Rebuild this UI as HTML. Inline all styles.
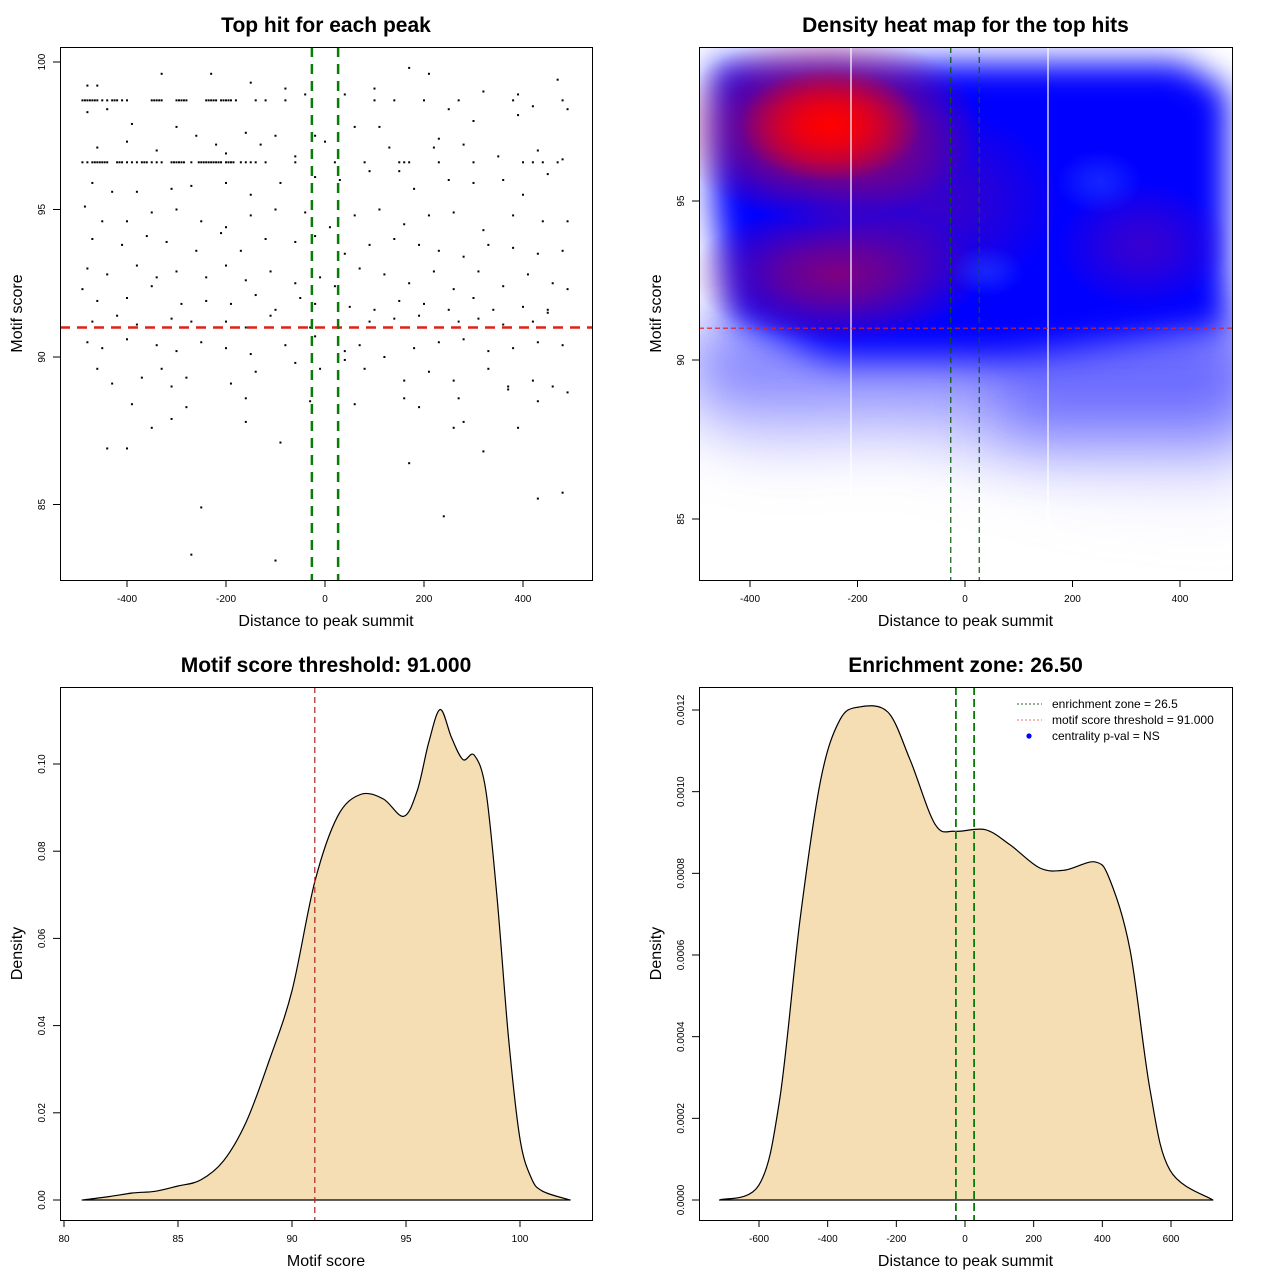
<!DOCTYPE html>
<html><head><meta charset="utf-8">
<style>
html,body{margin:0;padding:0;background:#fff;}
svg text{font-family:"Liberation Sans",sans-serif;}
</style></head>
<body>
<svg id="chart" xmlns="http://www.w3.org/2000/svg" width="1280" height="1280" viewBox="0 0 1280 1280">
<defs>
<filter id="blurA" filterUnits="userSpaceOnUse" x="600" y="0" width="700" height="700"><feGaussianBlur stdDeviation="16"/></filter>
<filter id="blurB" filterUnits="userSpaceOnUse" x="600" y="0" width="700" height="700"><feGaussianBlur stdDeviation="30"/></filter>
<clipPath id="clip2"><rect x="699" y="47" width="533" height="533"/></clipPath>
<linearGradient id="fadeGrad" x1="0" y1="0" x2="0" y2="1">
<stop offset="0" stop-color="#3030ff" stop-opacity="0.9"/>
<stop offset="0.45" stop-color="#8080ff" stop-opacity="0.55"/>
<stop offset="1" stop-color="#d0d0ff" stop-opacity="0.05"/>
</linearGradient>
</defs>
<g id="root"></g>
</svg>
<script>
// ---- Panel 1 data: scatter (distance, score)
const scatterX = [-490,-485,-480,-475,-470,-465,-460,-450,-440,-430,-425,-420,-410,-400,-350,-345,-340,-335,-330,-300,-295,-290,-285,-280,-240,-235,-230,-225,-220,-210,-205,-200,-195,-190,-180,-140,-120,-80,100,140,200,270,380,480,
-490,-480,-470,-465,-460,-455,-450,-445,-440,-420,-415,-410,-400,-390,-380,-370,-365,-360,-350,-340,-330,-310,-305,-300,-295,-290,-285,-270,-255,-250,-245,-240,-235,-230,-225,-220,-215,-210,-200,-195,-190,-185,-170,-160,-150,-140,-120,-60,20,80,150,160,170,230,300,400,420,440,470,
-480,-460,-330,-230,-150,-80,-40,40,100,170,210,320,390,470,
-480,-440,-390,-300,-260,-160,-100,-20,60,110,230,250,300,390,420,490,
-460,-400,-340,-220,-200,-130,-60,0,130,220,280,350,430,480,
-470,-430,-380,-310,-270,-200,-150,-90,-20,30,90,150,180,250,300,360,400,450,
-485,-450,-400,-350,-300,-250,-200,-150,-100,-40,10,60,110,160,210,260,320,380,440,490,
-470,-410,-360,-320,-260,-210,-170,-120,-60,-20,40,90,140,190,230,280,330,380,430,480,
-480,-440,-380,-340,-300,-240,-200,-160,-110,-60,-10,20,70,120,170,220,260,310,360,410,460,
-490,-460,-400,-350,-290,-240,-190,-140,-100,-50,-20,50,100,150,200,250,300,340,400,450,490,
-470,-420,-380,-310,-270,-200,-160,-110,-30,30,90,140,190,230,270,310,360,420,450,
-480,-450,-400,-340,-300,-250,-200,-150,-80,-20,40,70,120,180,230,280,330,380,430,480,
-460,-430,-370,-330,-310,-280,-190,-140,-60,-10,40,80,160,210,260,330,370,420,460,
-390,-280,-160,-30,60,160,190,270,370,430,490,
-350,-310,-160,-90,260,280,390,
-440,-400,170,320,
-250,240,430,480,
-270,-100];
const scatterY = [98.7,98.7,98.7,98.7,98.7,98.7,98.7,98.7,98.7,98.7,98.7,98.7,98.7,98.7,98.7,98.7,98.7,98.7,98.7,98.7,98.7,98.7,98.7,98.7,98.7,98.7,98.7,98.7,98.7,98.7,98.7,98.7,98.7,98.7,98.7,98.7,98.7,98.7,98.7,98.7,98.7,98.7,98.7,98.7,
96.6,96.6,96.6,96.6,96.6,96.6,96.6,96.6,96.6,96.6,96.6,96.6,96.6,96.6,96.6,96.6,96.6,96.6,96.6,96.6,96.6,96.6,96.6,96.6,96.6,96.6,96.6,96.6,96.6,96.6,96.6,96.6,96.6,96.6,96.6,96.6,96.6,96.6,96.6,96.6,96.6,96.6,96.6,96.6,96.6,96.6,96.6,96.6,96.6,96.6,96.6,96.6,96.6,96.6,96.6,96.6,96.6,96.6,96.6,
99.2,99.2,99.6,99.6,99.3,99.1,98.9,98.9,99.1,99.8,99.6,99.0,98.9,99.4,
98.3,98.4,97.9,97.8,97.5,97.6,97.5,97.5,97.8,97.8,97.4,98.4,98.0,98.2,98.5,98.4,
97.1,97.3,97.0,97.2,96.9,97.2,96.8,97.3,97.1,97.1,97.2,96.8,97.0,96.7,
95.9,95.6,95.6,95.7,95.8,95.9,95.5,95.9,96.1,96.0,96.3,96.3,95.7,96.0,95.9,96.0,95.5,96.2,
95.1,94.6,94.6,94.9,95.0,94.6,94.4,94.8,95.0,94.9,94.4,94.8,95.0,94.5,94.8,94.9,94.3,94.8,94.6,94.6,
94.0,93.8,94.1,93.9,93.6,94.2,93.6,94.0,93.9,94.1,93.5,93.8,94.0,93.8,93.6,93.4,93.8,93.7,93.5,93.6,
93.0,92.8,93.1,92.7,92.9,92.7,93.1,92.6,92.9,92.5,92.7,92.4,93.0,92.8,92.5,92.9,92.3,92.9,92.4,92.8,92.5,
92.3,91.9,92.0,92.4,91.8,91.9,91.8,92.1,91.6,92.0,91.8,91.7,91.6,91.9,91.8,91.6,92.0,91.6,91.7,91.6,92.3,
91.2,91.4,91.1,91.3,91.2,91.2,91.0,91.4,91.0,91.0,91.2,91.3,91.4,91.0,91.2,91.3,91.1,91.2,91.5,
90.5,90.3,90.6,90.4,90.2,90.5,90.3,90.1,90.4,90.7,90.2,90.4,90.0,90.3,90.5,90.6,90.2,90.3,90.5,90.4,
89.6,89.1,89.3,89.6,89.0,89.3,89.1,89.5,89.8,89.6,89.9,89.6,89.2,89.5,89.2,89.6,89.0,89.2,89.0,
88.4,88.3,88.6,88.5,88.4,88.6,88.3,88.6,88.9,88.5,88.8,
87.6,87.9,87.8,87.1,87.6,87.8,87.6,
86.9,86.9,86.4,86.8,
84.9,84.6,85.2,85.4,
83.3,83.1];
const p1XTicks = [-400,-200,0,200,400];
const p1YTicks = [85,90,95,100];
const scoreThreshold = 91;
const enrichZone = 26.5;

// ---- Panel 2 data: heat map density blobs (center distance, center score, radii in data units, colour, peak opacity)
const heatX = [-60, 330, -240, -260, -250, 250, 40];
const heatY = [95.0, 93.6, 92.7, 97.3, 97.4, 95.6, 92.8];
const heatRX = [240, 160, 270, 290, 170, 80, 70];
const heatRY = [3.0, 2.0, 2.2, 3.0, 1.8, 1.0, 0.8];
const heatColor = ['#5000b0', '#4a00c0', '#800080', '#c0003a', '#ff0000', '#2848ff', '#2848ff'];
const heatOpacity = [0.7, 0.75, 1, 1, 1, 0.5, 0.5];
const p2XTicks = [-400,-200,0,200,400];
const p2YTicks = [85,90,95];

// ---- Panel 3 data: density of motif score
const scoreX = [80.8,82,83,84,85,86,87,88,89,90,91,92,93,94,94.9,95.5,96,96.5,97,97.5,98,98.5,99,99.5,100,100.5,101,102.2];
const scoreD = [0,0.0008,0.0016,0.002,0.0032,0.0046,0.009,0.018,0.032,0.048,0.073,0.088,0.093,0.092,0.088,0.094,0.105,0.1125,0.106,0.101,0.102,0.094,0.069,0.037,0.014,0.005,0.002,0];
const p3XTicks = [80,85,90,95,100];
const p3YTicks = [0,0.02,0.04,0.06,0.08,0.10];

// ---- Panel 4 data: density of distance
const distX = [-715,-600,-540,-480,-420,-365,-310,-225,-160,-87,-29,58,131,218,291,379,422,481,539,597,722];
const distD = [0,0.000037,0.000245,0.00069,0.00103,0.001175,0.001207,0.001195,0.001078,0.00092,0.000903,0.000907,0.00087,0.000813,0.000808,0.000828,0.000784,0.000612,0.000269,0.000073,0];
const p4XTicks = [-600,-400,-200,0,200,400,600];
const p4YTicks = [0,0.0002,0.0004,0.0006,0.0008,0.0010,0.0012];

const NS = 'http://www.w3.org/2000/svg';
const root = document.getElementById('root');
const defs = document.querySelector('defs');
function mk(tag, attrs, parent, text) {
  const e = document.createElementNS(NS, tag);
  for (const k in attrs) e.setAttribute(k, attrs[k]);
  if (text !== undefined) e.textContent = text;
  (parent || root).appendChild(e);
  return e;
}
function lin(d0, d1, r0, r1) { return v => r0 + (v - d0) * (r1 - r0) / (d1 - d0); }
function smoothPath(pts) {
  let d = 'M' + pts[0][0].toFixed(1) + ' ' + pts[0][1].toFixed(1);
  for (let i = 0; i < pts.length - 1; i++) {
    const p0 = pts[Math.max(0, i - 1)], p1 = pts[i], p2 = pts[i + 1], p3 = pts[Math.min(pts.length - 1, i + 2)];
    const c1x = p1[0] + (p2[0] - p0[0]) / 6, c1y = p1[1] + (p2[1] - p0[1]) / 6;
    const c2x = p2[0] - (p3[0] - p1[0]) / 6, c2y = p2[1] - (p3[1] - p1[1]) / 6;
    d += ` C${c1x.toFixed(1)} ${c1y.toFixed(1)} ${c2x.toFixed(1)} ${c2y.toFixed(1)} ${p2[0].toFixed(1)} ${p2[1].toFixed(1)}`;
  }
  return d;
}

function frame(name, x0, y0, x1, y1, title, xlab, ylab, xs, ys, xt, yt, fmtX, fmtY) {
  const g = mk('g', {});
  
  
  const t = mk('text', {x: (x0 + x1) / 2, y: y0 - 15, 'text-anchor': 'middle', 'font-size': 21, 'font-weight': 'bold'}, g, title);
  
  
  const xl = mk('text', {x: (x0 + x1) / 2, y: y1 + 46, 'text-anchor': 'middle', 'font-size': 16}, g, xlab);
  
  
  const cy = (y0 + y1) / 2;
  const yl = mk('text', {x: x0 - 38, y: cy, 'text-anchor': 'middle', 'font-size': 16, transform: `rotate(-90 ${x0 - 38} ${cy})`}, g, ylab);
  
  
  const xa = mk('g', {}, g);
  
  
  mk('line', {x1: xs(xt[0]), x2: xs(xt[xt.length - 1]), y1: y1 + 0.5, y2: y1 + 0.5, stroke: '#000'}, xa);
  xt.forEach(v => {
    const px = xs(v);
    mk('line', {x1: px, x2: px, y1: y1, y2: y1 + 7, stroke: '#000'}, xa);
    const tl = mk('text', {x: px, y: y1 + 22, 'text-anchor': 'middle', 'font-size': 10}, xa, fmtX(v));
    
    
  });
  const ya = mk('g', {}, g);
  
  
  mk('line', {x1: x0 + 0.5, x2: x0 + 0.5, y1: ys(yt[0]), y2: ys(yt[yt.length - 1]), stroke: '#000'}, ya);
  yt.forEach(v => {
    const py = ys(v);
    mk('line', {x1: x0 - 7, x2: x0, y1: py, y2: py, stroke: '#000'}, ya);
    const tl = mk('text', {x: x0 - 15, y: py, 'text-anchor': 'middle', 'font-size': 10, transform: `rotate(-90 ${x0 - 15} ${py})`}, ya, fmtY(v));
    
    
  });
  return g;
}
function box(g, x0, y0, x1, y1) {
  mk('rect', {x: x0 + 0.5, y: y0 + 0.5, width: x1 - x0, height: y1 - y0, fill: 'none', stroke: '#000'}, g);
}

// ===== Panel 1
(function () {
  const X0 = 60, Y0 = 47, X1 = 592, Y1 = 580;
  const xs = lin(0, 400, 325, 523), ys = lin(90, 100, 357, 62);
  const g = frame('scatter-panel', X0, Y0, X1, Y1, 'Top hit for each peak', 'Distance to peak summit', 'Motif score', xs, ys, p1XTicks, p1YTicks, v => String(v), v => String(v));
  const pts = mk('g', {}, g);
  
  
  for (let i = 0; i < scatterX.length; i++) {
    const r = mk('rect', {x: xs(scatterX[i]) - 1, y: ys(scatterY[i]) - 1, width: 2, height: 2, fill: '#000'}, pts);
    
    
  }
  const h = mk('line', {x1: X0, x2: X1, y1: ys(scoreThreshold), y2: ys(scoreThreshold), stroke: '#e0201a', 'stroke-width': 2.5, 'stroke-dasharray': '10 7'}, g);
  
  
  [-enrichZone, enrichZone].forEach(v => {
    const l = mk('line', {x1: xs(v), x2: xs(v), y1: Y0, y2: Y1, stroke: '#0a7a0a', 'stroke-width': 2.5, 'stroke-dasharray': '10 7'}, g);
    
    
  });
  box(g, X0, Y0, X1, Y1);
})();

// ===== Panel 2
(function () {
  const X0 = 699, Y0 = 47, X1 = 1232, Y1 = 580;
  const xs = lin(0, 400, 965, 1180), ys = lin(90, 95, 360, 201);
  const g = frame('heatmap-panel', X0, Y0, X1, Y1, 'Density heat map for the top hits', 'Distance to peak summit', 'Motif score', xs, ys, p2XTicks, p2YTicks, v => String(v), v => String(v));
  const hm = mk('g', {'clip-path': 'url(#clip2)'}, g);
  
  
  mk('rect', {x: X0, y: Y0, width: X1 - X0, height: Y1 - Y0, fill: '#fff'}, hm);
  mk('path', {d: 'M690 330 L1250 330 L1250 520 L1100 500 L900 440 L760 450 L690 420 Z', fill: 'url(#fadeGrad)', filter: 'url(#blurB)'}, hm);
  mk('rect', {x: 1000, y: 330, width: 260, height: 110, fill: '#4848ff', opacity: 0.55, filter: 'url(#blurB)'}, hm);
  mk('path', {d: 'M712 62 L1180 62 L1228 90 L1228 330 L1000 360 L830 360 L730 320 L712 200 Z', fill: '#0000ff', filter: 'url(#blurA)'}, hm);
  for (let i = 0; i < heatX.length; i++) {
    const gid = 'hg' + i;
    const rg = mk('radialGradient', {id: gid}, defs);
    mk('stop', {offset: '0', 'stop-color': heatColor[i], 'stop-opacity': heatOpacity[i]}, rg);
    mk('stop', {offset: '0.35', 'stop-color': heatColor[i], 'stop-opacity': heatOpacity[i] * 0.75}, rg);
    mk('stop', {offset: '1', 'stop-color': heatColor[i], 'stop-opacity': 0}, rg);
    const e = mk('ellipse', {cx: xs(heatX[i]), cy: ys(heatY[i]), rx: Math.abs(xs(heatRX[i]) - xs(0)), ry: Math.abs(ys(heatRY[i]) - ys(0)), fill: `url(#${gid})`}, hm);
    
    
  }
  [851, 1048].forEach(px => mk('line', {x1: px, x2: px, y1: Y0, y2: Y1, stroke: '#fff', 'stroke-width': 1.2}, hm));
  const h = mk('line', {x1: X0, x2: X1, y1: ys(scoreThreshold), y2: ys(scoreThreshold), stroke: '#e0201a', 'stroke-width': 1.2, 'stroke-dasharray': '5 3'}, g);
  
  
  [-enrichZone, enrichZone].forEach(v => {
    const l = mk('line', {x1: xs(v), x2: xs(v), y1: Y0, y2: Y1, stroke: '#0a5a0a', 'stroke-width': 1.2, 'stroke-dasharray': '6 4'}, g);
    
    
  });
  box(g, X0, Y0, X1, Y1);
})();

// ===== Panel 3
(function () {
  const X0 = 60, Y0 = 687, X1 = 592, Y1 = 1220;
  const xs = lin(80, 100, 64, 520), ys = lin(0, 0.1, 1200, 764);
  const g = frame('score-density-panel', X0, Y0, X1, Y1, 'Motif score threshold: 91.000', 'Motif score', 'Density', xs, ys, p3XTicks, p3YTicks, v => String(v), v => v.toFixed(2));
  const pts = scoreX.map((v, i) => [xs(v), ys(scoreD[i])]);
  const a = mk('path', {d: smoothPath(pts) + ' Z', fill: '#f5deb3', stroke: '#000', 'stroke-width': 1.2, 'stroke-linejoin': 'round'}, g);
  
  
  const l = mk('line', {x1: xs(scoreThreshold), x2: xs(scoreThreshold), y1: Y0, y2: Y1, stroke: '#b22222', 'stroke-width': 1.2, 'stroke-dasharray': '6 4'}, g);
  
  
  box(g, X0, Y0, X1, Y1);
})();

// ===== Panel 4
(function () {
  const X0 = 699, Y0 = 687, X1 = 1232, Y1 = 1220;
  const xs = lin(0, 600, 965, 1171), ys = lin(0, 0.0012, 1200, 710);
  const g = frame('distance-density-panel', X0, Y0, X1, Y1, 'Enrichment zone: 26.50', 'Distance to peak summit', 'Density', xs, ys, p4XTicks, p4YTicks, v => String(v), v => v.toFixed(4));
  const pts = distX.map((v, i) => [xs(v), ys(distD[i])]);
  const a = mk('path', {d: smoothPath(pts) + ' Z', fill: '#f5deb3', stroke: '#000', 'stroke-width': 1.2, 'stroke-linejoin': 'round'}, g);
  
  
  [-enrichZone, enrichZone].forEach(v => {
    const l = mk('line', {x1: xs(v), x2: xs(v), y1: Y0, y2: Y1, stroke: '#0a7a0a', 'stroke-width': 1.8, 'stroke-dasharray': '8 4'}, g);
    
    
  });
  const lg = mk('g', {}, g);
  
  
  const items = [['enrichment zone = 26.5', 'line', '#2a6a2a'], ['motif score threshold = 91.000', 'line', '#f07070'], ['centrality p-val = NS', 'dot', '#0000ff']];
  items.forEach((it, i) => {
    const y = 704 + i * 16;
    const e = mk('g', {}, lg);
    
    
    if (it[1] === 'line') mk('line', {x1: 1017, x2: 1042, y1: y, y2: y, stroke: it[2], 'stroke-width': 1, 'stroke-dasharray': '2 2'}, e);
    else mk('circle', {cx: 1029, cy: y, r: 2.6, fill: it[2]}, e);
    mk('text', {x: 1052, y: y + 4, 'font-size': 12}, e, it[0]);
  });
  box(g, X0, Y0, X1, Y1);
})();
</script>
</body></html>
